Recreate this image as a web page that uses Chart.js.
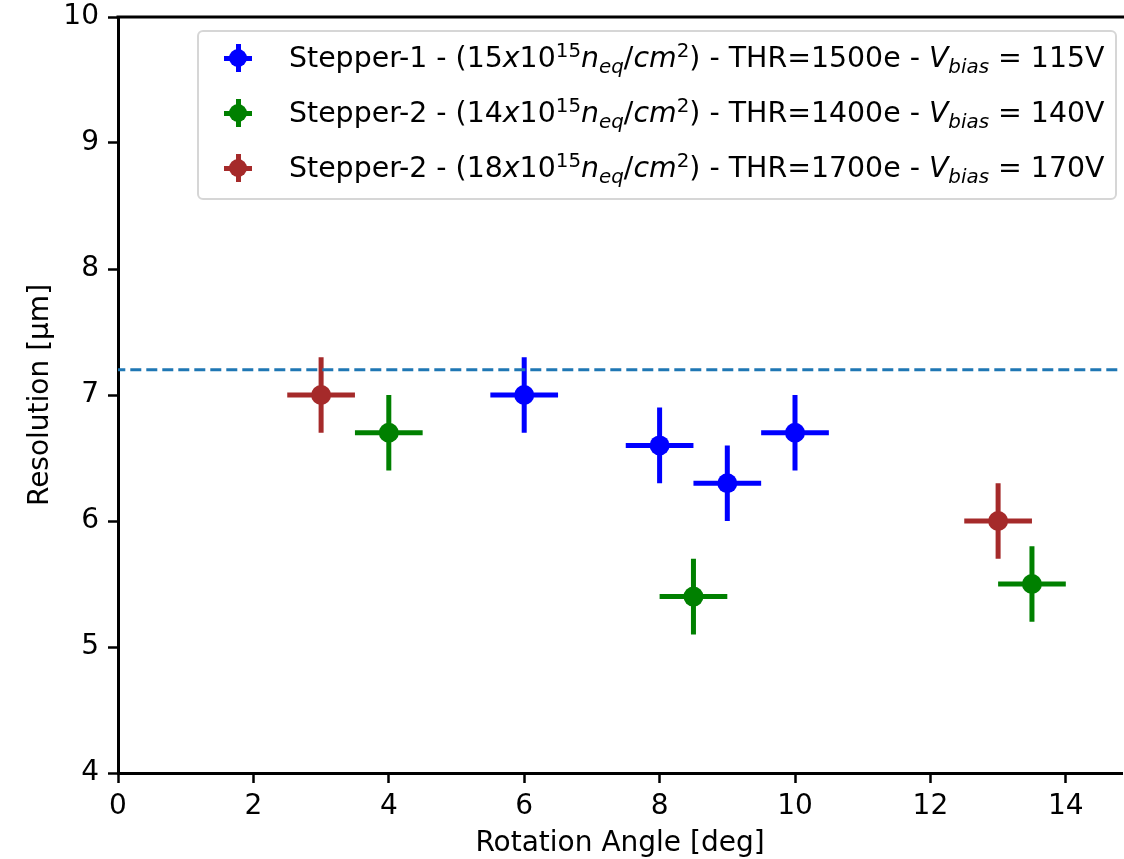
<!DOCTYPE html>
<html>
<head>
<meta charset="utf-8">
<script src="https://cdn.jsdelivr.net/npm/chart.js@4.4.1/dist/chart.umd.min.js"></script>
<style>
  body { margin: 0; background: #fff; }
  #wrap { position: relative; width: 1124px; height: 859px; }
  #legend {
    position: absolute; left: 197px; top: 30px; width: 916px; height: 166px;
    border: 2px solid #d6d6d6; border-radius: 6px; background: rgba(255,255,255,0.8);
    font-family: "DejaVu Sans", sans-serif; font-size: 28.4px; color: #000;
  }
  .row { position: absolute; left: 0; height: 40px; line-height: 40px; white-space: nowrap; }
  .mk { position: absolute; left: 25px; top: 6px; width: 28px; height: 28px; }
  .mk .h { position: absolute; left: 0; top: 11.5px; width: 28px; height: 5px; }
  .mk .v { position: absolute; left: 11.5px; top: 0; width: 5px; height: 28px; }
  .mk .d { position: absolute; left: 5px; top: 5px; width: 18px; height: 18px; border-radius: 50%; }
  .txt { position: absolute; left: 90px; top: 0; }
  .txt i { font-style: italic; }
  .txt sup, .txt sub { font-size: 70%; line-height: 0; }
  .txt sup { vertical-align: 0.5em; }
  .txt sub { vertical-align: -0.3em; }
</style>
</head>
<body>
<div id="wrap">
  <canvas id="chart" width="1124" height="859"></canvas>
  <div id="legend"></div>
</div>
<script>
// 데이터
const blueX = [6, 8, 9, 10];
const blueY = [7.0, 6.6, 6.3, 6.7];
const greenX = [4, 8.5, 13.5];
const greenY = [6.7, 5.4, 5.5];
const brownX = [3, 13];
const brownY = [7.0, 6.0];
const xErr = 0.5;
const yErr = 0.3;
const refLine = 7.2;
const xTicks = [0, 2, 4, 6, 8, 10, 12, 14];
const yTicks = [4, 5, 6, 7, 8, 9, 10];

const series = [
  { x: blueX, y: blueY, color: '#0000ff', fluence: '15', thr: '1500', vb: '115', name: 'Stepper-1' },
  { x: greenX, y: greenY, color: '#008000', fluence: '14', thr: '1400', vb: '140', name: 'Stepper-2' },
  { x: brownX, y: brownY, color: '#a52a2a', fluence: '18', thr: '1700', vb: '170', name: 'Stepper-2' }
];

function pts(xs, ys) { return xs.map((v, i) => ({ x: v, y: ys[i] })); }

// 에러바 그리기
const errorBars = {
  id: 'errorBars',
  beforeDatasetsDraw(chart) {
    const { ctx, scales: { x, y } } = chart;
    ctx.save();
    ctx.lineWidth = 5;
    ctx.lineCap = 'butt';
    series.forEach(s => {
      ctx.strokeStyle = s.color;
      s.x.forEach((xv, i) => {
        const yv = s.y[i];
        ctx.beginPath();
        ctx.moveTo(x.getPixelForValue(xv - xErr), y.getPixelForValue(yv));
        ctx.lineTo(x.getPixelForValue(xv + xErr), y.getPixelForValue(yv));
        ctx.moveTo(x.getPixelForValue(xv), y.getPixelForValue(yv - yErr));
        ctx.lineTo(x.getPixelForValue(xv), y.getPixelForValue(yv + yErr));
        ctx.stroke();
      });
    });
    ctx.restore();
  },
  afterDraw(chart) {
    // 위쪽 테두리
    const { ctx, chartArea } = chart;
    ctx.save();
    ctx.strokeStyle = '#000';
    ctx.lineWidth = 3;
    ctx.beginPath();
    ctx.moveTo(chartArea.left - 1.5, chartArea.top);
    ctx.lineTo(chartArea.right + 2, chartArea.top);
    ctx.stroke();
    ctx.restore();
  }
};

const datasets = series.map(s => ({
  type: 'scatter',
  data: pts(s.x, s.y),
  backgroundColor: s.color,
  borderColor: s.color,
  pointRadius: 10,
  pointHoverRadius: 10,
  borderWidth: 0
}));
datasets.push({
  type: 'line',
  data: [{ x: -1, y: refLine }, { x: 16, y: refLine }],
  borderColor: '#1f77b4',
  borderWidth: 3,
  borderDash: [11, 5],
  pointRadius: 0,
  fill: false
});

new Chart(document.getElementById('chart'), {
  type: 'scatter',
  data: { datasets },
  plugins: [errorBars],
  options: {
    responsive: false,
    animation: false,
    layout: { autoPadding: false, padding: { top: 17, right: 2, left: 0, bottom: 0 } },
    plugins: { legend: { display: false }, tooltip: { enabled: false } },
    scales: {
      x: {
        type: 'linear', min: 0, max: 14.83,
        afterFit(s) { s.height = 86; s.paddingLeft = 0; s.paddingRight = 0; },
        afterBuildTicks(s) { s.ticks = xTicks.map(v => ({ value: v })); },
        ticks: { color: '#000', padding: 7, font: { family: 'DejaVu Sans', size: 28 } },
        grid: { drawOnChartArea: false, tickLength: 10, tickWidth: 2.5, tickColor: '#000' },
        border: { color: '#000', width: 3 },
        title: { display: true, text: 'Rotation Angle [deg]', color: '#000', padding: 0,
                 font: { family: 'DejaVu Sans', size: 28, lineHeight: 1.1 } }
      },
      y: {
        type: 'linear', min: 4, max: 10,
        afterFit(s) { s.width = 118; s.paddingTop = 0; s.paddingBottom = 0; },
        afterBuildTicks(s) { s.ticks = yTicks.map(v => ({ value: v })); },
        ticks: { color: '#000', padding: 9, font: { family: 'DejaVu Sans', size: 28 } },
        grid: { drawOnChartArea: false, tickLength: 10, tickWidth: 2.5, tickColor: '#000' },
        border: { color: '#000', width: 3 },
        title: { display: true, text: 'Resolution [µm]', color: '#000', padding: { top: 24, bottom: 0 },
                 font: { family: 'DejaVu Sans', size: 28, lineHeight: 1.2 } }
      }
    }
  }
});

// 범례
const legend = document.getElementById('legend');
series.forEach((s, i) => {
  const row = document.createElement('div');
  row.className = 'row';
  row.style.top = (6 + i * 55) + 'px';
  row.innerHTML =
    '<div class="mk"><div class="h" style="background:' + s.color + '"></div>' +
    '<div class="v" style="background:' + s.color + '"></div>' +
    '<div class="d" style="background:' + s.color + '"></div></div>' +
    '<span class="txt">' + s.name + ' - (' + s.fluence + '<i>x</i>10<sup>15</sup><i>n</i><sub><i>eq</i></sub>/<i>cm</i><sup>2</sup>)' +
    ' - THR=' + s.thr + 'e - <i>V</i><sub><i>bias</i></sub> = ' + s.vb + 'V</span>';
  legend.appendChild(row);
});
</script>
</body>
</html>
